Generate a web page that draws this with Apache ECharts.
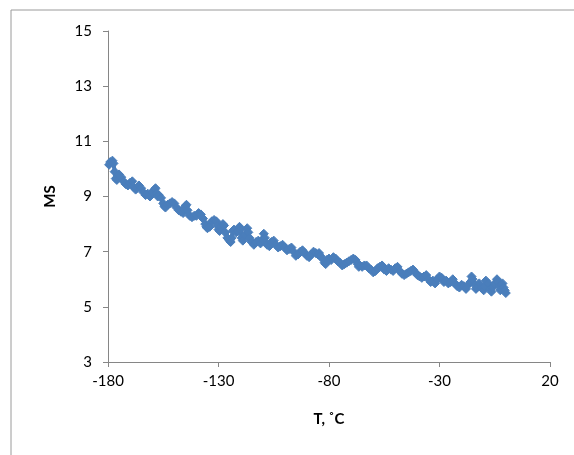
<!DOCTYPE html>
<html><head><meta charset="utf-8">
<script src="https://cdn.jsdelivr.net/npm/echarts@6/dist/echarts.min.js"></script>
<style>html,body{margin:0;padding:0;background:#fff}#c{width:574px;height:455px}</style>
</head><body><div id="c"></div>
<script>
const temps = [-179.5,-179,-178,-177.5,-177,-176.5,-176,-175.5,-175,-174,-173,-172,-171,-170,-169,-168.5,-167.5,-167,-166,-165,-164,-163,-162,-161,-160,-159,-158.5,-158,-157.5,-157,-156,-155,-154.5,-154,-153,-152,-151,-150,-149,-148,-147,-146,-145.5,-145,-144.5,-144,-143,-142,-141,-140,-139,-138,-137,-136,-135.5,-135,-134,-133,-132,-131,-130.5,-130,-129.5,-129,-128,-127.5,-127,-126,-125,-124.5,-124,-123.5,-123,-122,-121,-120.5,-120,-119.5,-119,-118,-117,-116.5,-116,-115,-114,-113,-112,-111,-110,-109.5,-109,-108,-107,-106,-105,-104,-103,-102,-101,-100,-99,-98,-97,-96,-95,-94,-93,-92,-91,-90,-89,-88,-87,-86,-85,-84.5,-84,-83,-82,-81.5,-81,-80,-79,-78,-77,-76,-75,-74,-73,-72,-71,-70,-69,-68,-67,-66.5,-66,-65,-64,-63,-62,-61,-60,-59,-58,-57,-56,-55.5,-55,-54,-53,-52,-51,-50,-49,-48,-47,-46,-45,-44,-43,-42,-41,-40,-39,-38,-37,-36,-35,-34,-33,-32,-31,-30,-29,-28,-27,-26,-25,-24,-23,-22,-21,-20,-19,-18,-17,-16,-15.5,-15,-14,-13.5,-13,-12,-11,-10,-9.5,-9,-8,-7,-6.5,-6,-5,-4,-3.5,-3,-2.5,-2,-1.5,-1,-0.5,0];
const msValues = [10.15,10.25,10.3,10.2,9.9,9.65,9.6,9.75,9.8,9.7,9.55,9.45,9.4,9.5,9.55,9.35,9.25,9.3,9.4,9.3,9.15,9.05,9.1,9.0,9.15,9.25,9.3,9.1,9.0,9.05,8.95,8.75,8.65,8.6,8.7,8.75,8.8,8.75,8.6,8.5,8.45,8.4,8.55,8.65,8.7,8.5,8.3,8.25,8.3,8.3,8.4,8.35,8.2,8.0,7.9,7.85,7.9,8.1,8.15,8.1,7.95,7.8,7.75,7.9,8.0,7.95,7.7,7.5,7.4,7.35,7.5,7.75,7.8,7.7,7.75,7.9,7.8,7.5,7.4,7.6,7.85,7.7,7.5,7.35,7.25,7.35,7.4,7.3,7.45,7.65,7.5,7.25,7.2,7.35,7.4,7.25,7.15,7.2,7.25,7.15,7.05,7.1,7.15,7.0,6.85,6.9,7.0,7.05,6.95,6.85,6.8,6.9,7.0,6.95,6.9,6.95,6.85,6.75,6.6,6.55,6.7,6.75,6.7,6.8,6.75,6.65,6.6,6.5,6.55,6.6,6.65,6.7,6.75,6.7,6.55,6.45,6.5,6.45,6.5,6.5,6.4,6.35,6.25,6.3,6.4,6.45,6.5,6.45,6.35,6.3,6.4,6.35,6.3,6.4,6.45,6.3,6.2,6.15,6.2,6.25,6.3,6.35,6.25,6.15,6.1,6.05,6.1,6.15,6.0,5.9,5.95,5.85,6.0,6.1,6.05,5.9,5.95,5.85,5.9,6.0,5.85,5.75,5.7,5.8,5.75,5.65,5.8,5.9,6.1,6.0,5.8,5.65,5.7,5.85,5.7,5.6,5.75,5.95,5.85,5.65,5.55,5.7,5.85,6.0,5.9,5.75,5.6,5.8,5.85,5.7,5.6,5.5];
const xTicks = [-180,-130,-80,-30,20];
const yTicks = [3,5,7,9,11,13,15];
const xTitle = 'T, ˚C';
const yTitle = 'MS';

const chart = echarts.init(document.getElementById('c'), null, {renderer:'canvas'});
const font = 'Lato, "Open Sans", sans-serif';
const axisColor = '#868686';
chart.setOption({
  animation:false,
  backgroundColor:'#fff',
  graphic:[{type:'rect',shape:{x:11,y:10,width:640,height:520},style:{fill:'none',stroke:'#9a9a9a',lineWidth:1},silent:true}],
  grid:{left:108,right:24,top:31,bottom:93,containLabel:false},
  xAxis:{type:'value',min:xTicks[0],max:xTicks[xTicks.length-1],interval:50,
    axisLine:{show:true,onZero:false,lineStyle:{color:axisColor,width:1}},
    axisTick:{show:true,inside:false,length:5,lineStyle:{color:axisColor}},
    splitLine:{show:false},
    axisLabel:{color:'#000',fontSize:15,fontFamily:font,margin:12},
    name:xTitle,nameLocation:'middle',nameGap:50,
    nameTextStyle:{color:'#000',fontSize:15,fontWeight:'bold',fontFamily:font}},
  yAxis:{type:'value',min:yTicks[0],max:yTicks[yTicks.length-1],interval:2,
    axisLine:{show:true,onZero:false,lineStyle:{color:axisColor,width:1}},
    axisTick:{show:true,inside:false,length:5,lineStyle:{color:axisColor}},
    splitLine:{show:false},
    axisLabel:{color:'#000',fontSize:15,fontFamily:font,margin:16},
    name:yTitle,nameLocation:'middle',nameGap:50,nameRotate:90,
    nameTextStyle:{color:'#000',fontSize:15,fontWeight:'bold',fontFamily:font}},
  series:[{type:'line',data:temps.map((t,i)=>[t,msValues[i]]),
    symbol:'diamond',symbolSize:9,showAllSymbol:true,
    lineStyle:{color:'#4A7EBB',width:4},
    itemStyle:{color:'#4A7EBB',borderColor:'#4A7EBB',borderWidth:1},
    smooth:false}]
});
</script></body></html>
